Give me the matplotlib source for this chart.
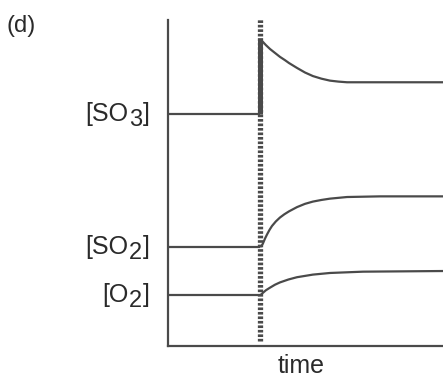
import matplotlib
matplotlib.use("Agg")
import matplotlib.pyplot as plt
from matplotlib.transforms import offset_copy

plt.rcParams["font.family"] = ["Liberation Sans", "DejaVu Sans"]

LINE = "#4a4a4a"
TEXT = "#2a2a2a"

# time (0-100) and concentration (0-100, arbitrary units)
t_event = 33.5
t_before = [0.0, 33.5]

so3_before = [71.2, 71.2]
so3_t = [33.5, 34.5, 35.6, 37.1, 38.9, 40.7, 42.5, 44.0, 46.9, 49.8, 52.7,
         55.8, 58.9, 62.0, 65.1, 77.1, 100.0]
so3_c = [93.9, 93.3, 92.3, 91.1, 89.9, 88.7, 87.7, 86.8, 85.3, 83.9, 82.8,
         82.0, 81.4, 81.1, 80.9, 80.9, 80.9]

so2_before = [30.4, 30.4]
so2_t = [33.5, 34.0, 34.5, 35.3, 36.0, 36.9, 37.8, 39.2, 40.7, 42.3, 44.0,
         46.9, 49.8, 52.7, 55.8, 58.9, 65.1, 77.1, 100.0]
so2_c = [30.4, 30.7, 31.4, 33.0, 34.2, 35.6, 36.8, 38.2, 39.4, 40.4, 41.3,
         42.6, 43.6, 44.3, 44.8, 45.2, 45.7, 45.9, 45.9]

o2_before = [15.6, 15.6]
o2_t = [33.5, 34.0, 34.5, 35.6, 37.1, 38.9, 40.7, 43.8, 46.9, 52.7, 58.9,
        70.9, 100.0]
o2_c = [15.6, 15.9, 16.3, 17.1, 17.9, 18.8, 19.5, 20.4, 21.1, 21.9, 22.4,
        22.8, 23.0]

# label pieces: (main text, subscript, closing bracket)
labels = [("[SO", "3", "]"), ("[SO", "2", "]"), ("[O", "2", "]")]
label_levels = [so3_before[0], so2_before[0], o2_before[0]]

fig = plt.figure(figsize=(4.43, 3.77), dpi=100)
ax = fig.add_axes([168 / 443, 31 / 377, 275 / 443, 326 / 377])
ax.set_xlim(0, 100)
ax.set_ylim(0, 100)

kw = dict(color=LINE, linewidth=1.6, solid_capstyle="butt")
ax.plot(t_before, so3_before, **kw)
ax.plot(so3_t, so3_c, **kw)
ax.plot(t_before, so2_before, **kw)
ax.plot(so2_t, so2_c, **kw)
ax.plot(t_before, o2_before, **kw)
ax.plot(o2_t, o2_c, **kw)

# sudden addition of SO3: thick vertical jump
ax.plot([t_event, t_event], [so3_before[-1], so3_c[0] + 0.6], color=LINE,
        linewidth=3.6, solid_capstyle="butt")

# dotted marker of the disturbance time
ax.plot([t_event, t_event], [1.5, 100.6], color=LINE, linewidth=3.8,
        linestyle=(0, (0.5, 0.35)), dash_capstyle="butt", clip_on=False)

for s in ["top", "right"]:
    ax.spines[s].set_visible(False)
for s in ["left", "bottom"]:
    ax.spines[s].set_color(LINE)
    ax.spines[s].set_linewidth(1.6)

ax.set_xticks([])
ax.set_yticks([])

# y labels with full-size, lowered subscripts, right-aligned left of the axis
fs = 18
fig.canvas.draw()
renderer = fig.canvas.get_renderer()
for (main, sub, close), level in zip(labels, label_levels):
    base = ax.get_yaxis_transform()
    t_close = ax.text(-0.065, level, close, transform=base, fontsize=fs,
                      color=TEXT, ha="right", va="center")
    w_close = t_close.get_window_extent(renderer).width + 1
    t_sub = ax.text(-0.065, level, sub, fontsize=fs - 1, color=TEXT,
                    ha="right", va="center",
                    transform=offset_copy(base, fig=fig, x=-w_close * 72 / fig.dpi,
                                          y=-4.5, units="points"))
    w_sub = t_sub.get_window_extent(renderer).width + 1
    ax.text(-0.065, level, main, fontsize=fs, color=TEXT, ha="right", va="center",
            transform=offset_copy(base, fig=fig,
                                  x=-(w_close + w_sub) * 72 / fig.dpi,
                                  units="points"))

ax.set_xlabel("time", fontsize=18, color=TEXT, labelpad=3)
ax.xaxis.set_label_coords((301 - 168) / 275, -0.025, transform=ax.transAxes)
ax.xaxis.label.set_va("top")
fig.text(7 / 443, 1 - 26 / 377, "(d)", fontsize=17, color=TEXT,
         ha="left", va="center")

fig.savefig("out.png", dpi=100)
